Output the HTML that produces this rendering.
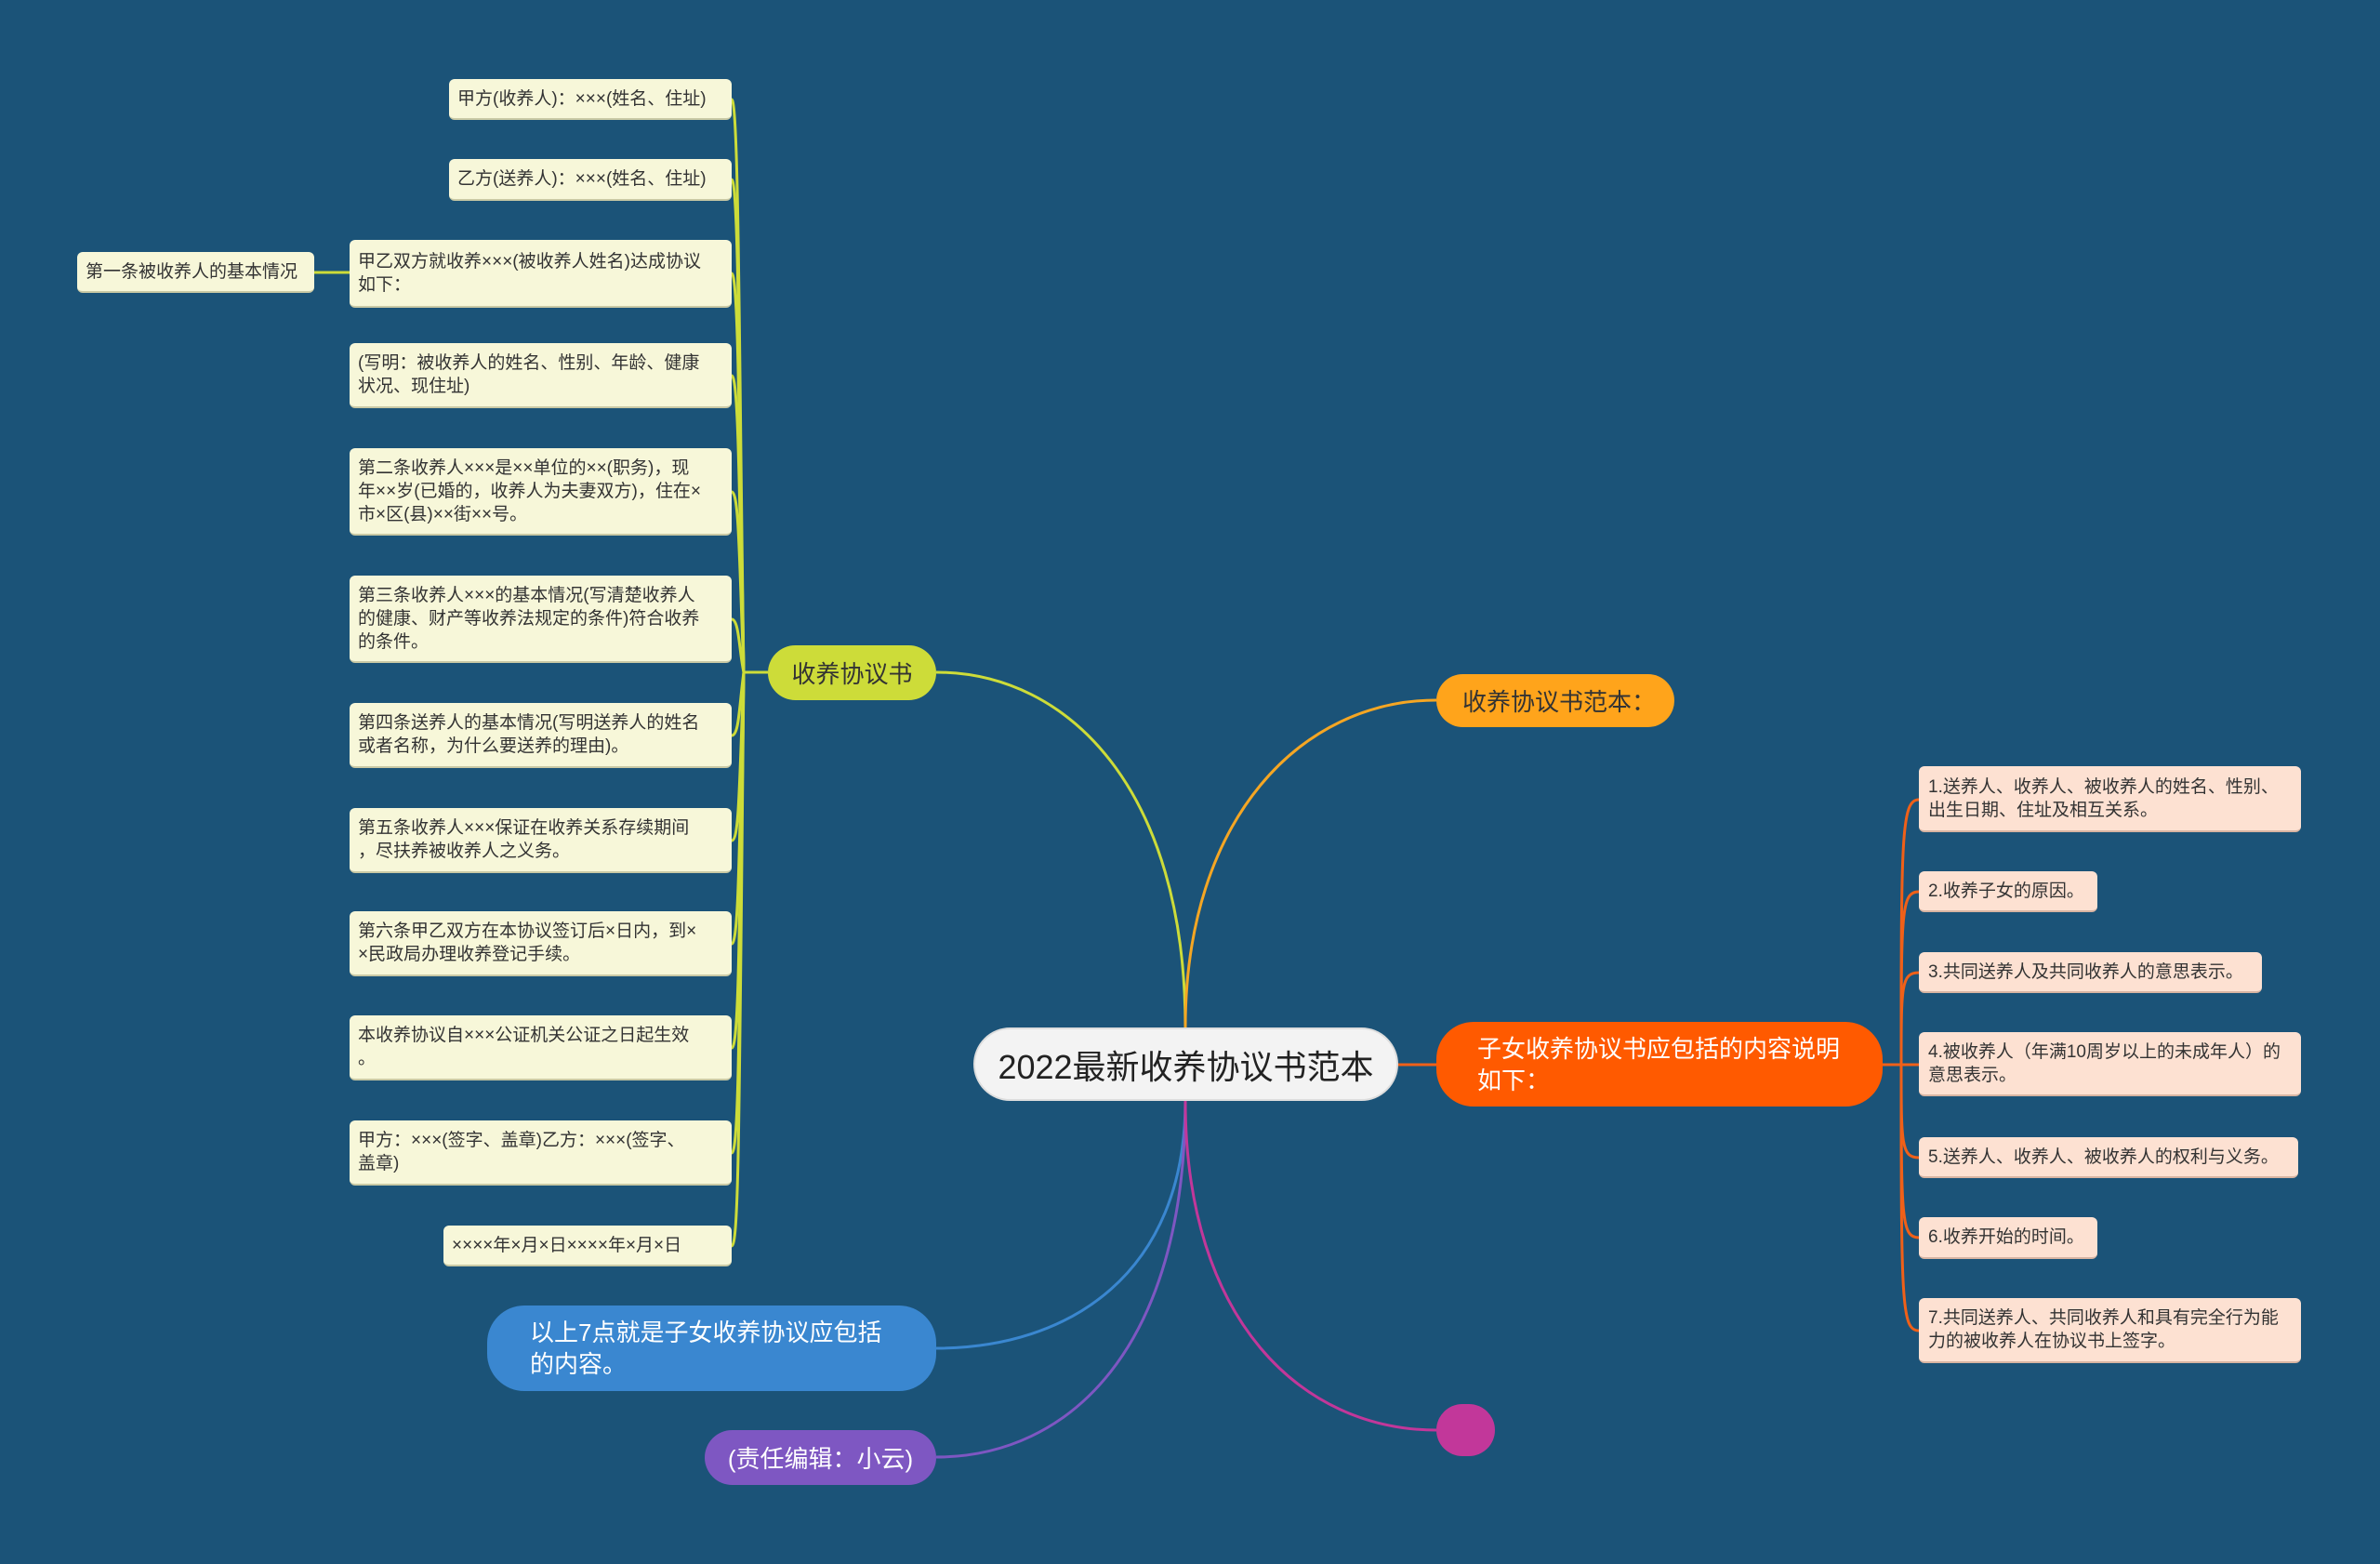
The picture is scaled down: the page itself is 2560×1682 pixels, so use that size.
<!DOCTYPE html>
<html><head><meta charset="utf-8"><style>
body{margin:0;width:2560px;height:1682px;background:#1b5378;position:relative;overflow:hidden;font-family:"Liberation Sans","Noto Sans CJK SC",sans-serif}
.n{position:absolute;box-sizing:border-box;display:flex;align-items:center}
.l{background:#f7f7d9;color:#333;font-size:19px;line-height:25px;border-radius:6px;padding:0 9px;border-bottom:2px solid #c9c9a5}
.r{background:#fde1d2;color:#333;font-size:19px;line-height:25px;border-radius:6px;padding:0 10px;border-bottom:2px solid #d8b4a2}
.s{white-space:nowrap}
.m{border-radius:40px;font-size:26px;justify-content:center}
svg{position:absolute;left:0;top:0}
</style></head><body>
<svg width="2560" height="1682" fill="none" stroke-width="3">
<g stroke="#cddc39">
<path d="M1275,1105 C1275,850 1150,723 1007,723"/>
<path d="M826,723 L800,723"/>
<path d="M800,723 C795,400 795,107 787,107"/>
<path d="M800,723 C795,450 795,193 787,193"/>
<path d="M800,723 C795,500 795,294 787,294"/>
<path d="M800,723 C795,550 795,404 787,404"/>
<path d="M800,723 C795,600 795,529 787,529"/>
<path d="M800,723 C795,700 795,666 787,666"/>
<path d="M800,723 C795,760 795,791 787,791"/>
<path d="M800,723 C795,850 795,904 787,904"/>
<path d="M800,723 C795,900 795,1015 787,1015"/>
<path d="M800,723 C795,1000 795,1127 787,1127"/>
<path d="M800,723 C795,1100 795,1240 787,1240"/>
<path d="M800,723 C795,1200 795,1340 787,1340"/>
<path d="M376,293 L338,293"/>
</g>
<path stroke="#f5a623" d="M1275,1105 C1275,880 1400,753 1545,753"/>
<path stroke="#f06018" d="M1504,1145 L1545,1145"/>
<g stroke="#f06018">
<path d="M2025,1145 L2045,1145"/>
<path d="M2045,1145 C2045,900 2045,860 2064,860"/>
<path d="M2045,1145 C2045,980 2045,959 2064,959"/>
<path d="M2045,1145 C2045,1060 2045,1046 2064,1046"/>
<path d="M2045,1145 L2064,1145"/>
<path d="M2045,1145 C2045,1230 2045,1245 2064,1245"/>
<path d="M2045,1145 C2045,1310 2045,1331 2064,1331"/>
<path d="M2045,1145 C2045,1400 2045,1431 2064,1431"/>
</g>
<path stroke="#3a87d0" d="M1275,1184 C1275,1370 1150,1450 1007,1450"/>
<path stroke="#7e57c2" d="M1275,1184 C1275,1450 1150,1567 1007,1567"/>
<path stroke="#c2379a" d="M1275,1184 C1275,1420 1400,1538 1545,1538"/>
</svg>

<div class="n m" style="left:1047px;top:1105px;width:457px;height:79px;background:#f3f3f3;color:#222;font-size:36px;border:2px solid #ddd">2022最新收养协议书范本</div>
<div class="n m" style="left:826px;top:694px;width:181px;height:59px;background:#cddc39;color:#333">收养协议书</div>
<div class="n m" style="left:1545px;top:725px;width:256px;height:57px;background:#ffa41b;color:#333;justify-content:flex-start;padding-left:28px">收养协议书范本：</div>
<div class="n m" style="left:1545px;top:1099px;width:480px;height:91px;background:#ff5a00;color:#fff;justify-content:flex-start;padding-left:44px;line-height:34px">子女收养协议书应包括的内容说明<br>如下：</div>
<div class="n m" style="left:524px;top:1404px;width:483px;height:92px;background:#3a87d0;color:#fff;justify-content:flex-start;padding-left:46px;line-height:34px">以上7点就是子女收养协议应包括<br>的内容。</div>
<div class="n m" style="left:758px;top:1538px;width:249px;height:59px;background:#7e57c2;color:#fff">(责任编辑：小云)</div>
<div class="n m" style="left:1545px;top:1510px;width:63px;height:56px;background:#c2379a"></div>

<div class="n l s" style="left:83px;top:271px;width:255px;height:44px">第一条被收养人的基本情况</div>
<div class="n l s" style="left:483px;top:85px;width:304px;height:44px">甲方(收养人)：×××(姓名、住址)</div>
<div class="n l s" style="left:483px;top:171px;width:304px;height:45px">乙方(送养人)：×××(姓名、住址)</div>
<div class="n l" style="left:376px;top:258px;width:411px;height:73px">甲乙双方就收养×××(被收养人姓名)达成协议<br>如下：</div>
<div class="n l" style="left:376px;top:369px;width:411px;height:70px">(写明：被收养人的姓名、性别、年龄、健康<br>状况、现住址)</div>
<div class="n l" style="left:376px;top:482px;width:411px;height:94px">第二条收养人×××是××单位的××(职务)，现<br>年××岁(已婚的，收养人为夫妻双方)，住在×<br>市×区(县)××街××号。</div>
<div class="n l" style="left:376px;top:619px;width:411px;height:94px">第三条收养人×××的基本情况(写清楚收养人<br>的健康、财产等收养法规定的条件)符合收养<br>的条件。</div>
<div class="n l" style="left:376px;top:756px;width:411px;height:70px">第四条送养人的基本情况(写明送养人的姓名<br>或者名称，为什么要送养的理由)。</div>
<div class="n l" style="left:376px;top:869px;width:411px;height:70px">第五条收养人×××保证在收养关系存续期间<br>，尽扶养被收养人之义务。</div>
<div class="n l" style="left:376px;top:980px;width:411px;height:70px">第六条甲乙双方在本协议签订后×日内，到×<br>×民政局办理收养登记手续。</div>
<div class="n l" style="left:376px;top:1092px;width:411px;height:70px">本收养协议自×××公证机关公证之日起生效<br>。</div>
<div class="n l" style="left:376px;top:1205px;width:411px;height:70px">甲方：×××(签字、盖章)乙方：×××(签字、<br>盖章)</div>
<div class="n l s" style="left:477px;top:1318px;width:310px;height:44px">××××年×月×日××××年×月×日</div>

<div class="n r" style="left:2064px;top:824px;width:411px;height:71px">1.送养人、收养人、被收养人的姓名、性别、<br>出生日期、住址及相互关系。</div>
<div class="n r s" style="left:2064px;top:937px;width:192px;height:44px">2.收养子女的原因。</div>
<div class="n r s" style="left:2064px;top:1024px;width:369px;height:44px">3.共同送养人及共同收养人的意思表示。</div>
<div class="n r" style="left:2064px;top:1110px;width:411px;height:69px">4.被收养人（年满10周岁以上的未成年人）的<br>意思表示。</div>
<div class="n r s" style="left:2064px;top:1223px;width:408px;height:44px">5.送养人、收养人、被收养人的权利与义务。</div>
<div class="n r s" style="left:2064px;top:1309px;width:192px;height:45px">6.收养开始的时间。</div>
<div class="n r" style="left:2064px;top:1396px;width:411px;height:70px">7.共同送养人、共同收养人和具有完全行为能<br>力的被收养人在协议书上签字。</div>
</body></html>
